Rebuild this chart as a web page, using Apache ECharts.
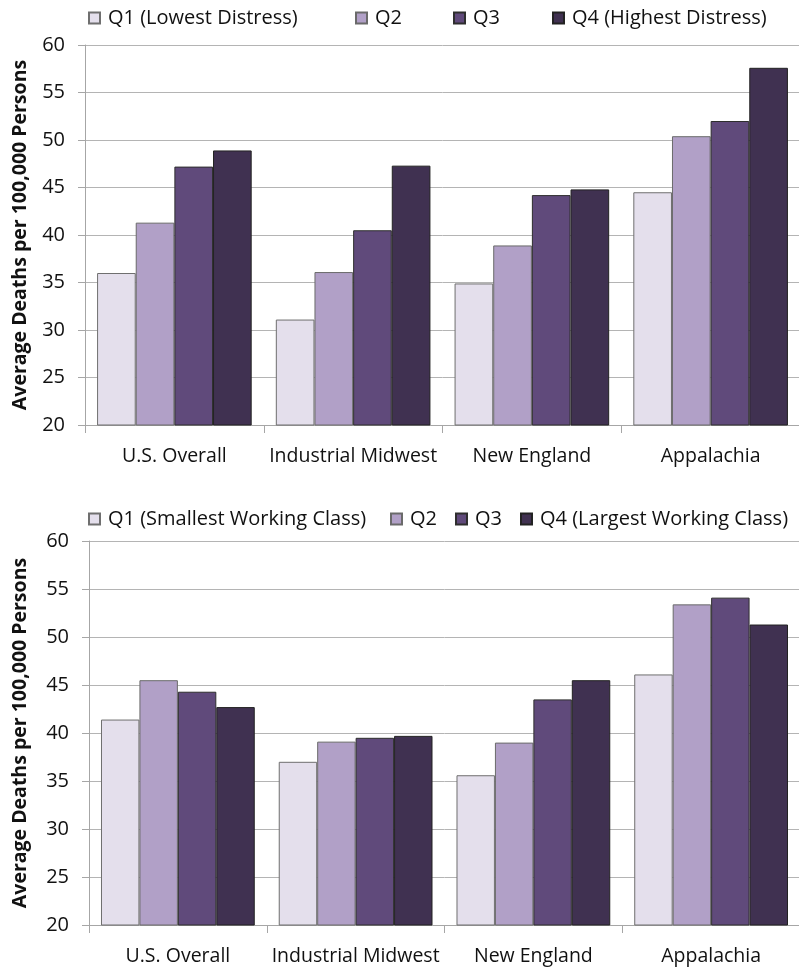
<!DOCTYPE html>
<html>
<head>
<meta charset="utf-8">
<script src="https://cdn.jsdelivr.net/npm/echarts@6/dist/echarts.min.js"></script>
<style>html,body{margin:0;padding:0;background:#fff;}#c{width:799px;height:968px;}</style>
</head>
<body>
<div id="c"></div>
<script>
const categories = ['U.S. Overall', 'Industrial Midwest', 'New England', 'Appalachia'];
const yTicks = [20, 25, 30, 35, 40, 45, 50, 55, 60];

const topNames = ['Q1 (Lowest Distress)', 'Q2', 'Q3', 'Q4 (Highest Distress)'];
const topQ1 = [36.0, 31.1, 34.9, 44.5];
const topQ2 = [41.3, 36.1, 38.9, 50.4];
const topQ3 = [47.2, 40.5, 44.2, 52.0];
const topQ4 = [48.9, 47.3, 44.8, 57.6];

const botNames = ['Q1 (Smallest Working Class)', 'Q2 ', 'Q3 ', 'Q4 (Largest Working Class)'];
const botQ1 = [41.4, 37.0, 35.6, 46.1];
const botQ2 = [45.5, 39.1, 39.0, 53.4];
const botQ3 = [44.3, 39.5, 43.5, 54.1];
const botQ4 = [42.7, 39.7, 45.5, 51.3];

const yTitle = 'Average Deaths per 100,000 Persons';

const colors = ['#e4dfec', '#b1a0c7', '#604a7b', '#403151'];
const borders = ['#6f6f6f', '#6a6a6a', '#2e2e2e', '#222222'];
const FONT = 'Open Sans';
const TXT = '#111';

const topData = [topQ1, topQ2, topQ3, topQ4];
const botData = [botQ1, botQ2, botQ3, botQ4];

function xAxis(gi) {
  return {
    type: 'category', gridIndex: gi, data: categories,
    axisLine: {show: true, lineStyle: {color: '#a6a6a6', width: 1}},
    axisTick: {show: true, length: 8, interval: 0, lineStyle: {color: '#a6a6a6'}},
    axisLabel: {fontFamily: FONT, fontSize: 19.5, color: TXT, margin: 21, interval: 0}
  };
}
function yAxis(gi, gap) {
  return {
    type: 'value', gridIndex: gi, min: yTicks[0], max: yTicks[yTicks.length - 1], interval: yTicks[1] - yTicks[0],
    name: yTitle, nameLocation: 'middle', nameGap: gap, nameRotate: 90,
    nameTextStyle: {fontFamily: FONT, fontSize: 19.5, fontWeight: 'bold', color: TXT},
    axisLine: {show: true, lineStyle: {color: '#a6a6a6', width: 1}},
    axisTick: {show: true, length: 7, lineStyle: {color: '#a6a6a6'}},
    axisLabel: {fontFamily: FONT, fontSize: 20, color: TXT, margin: 20},
    splitLine: {show: true, lineStyle: {color: '#b4b4b4', width: 1}}
  };
}
function seriesFor(names, data, gi) {
  return names.map((n, i) => ({
    type: 'bar', name: n, xAxisIndex: gi, yAxisIndex: gi, data: data[i],
    barGap: '0%', barCategoryGap: '13.5%',
    itemStyle: {color: colors[i], borderColor: borders[i], borderWidth: 1},
    emphasis: {disabled: true}
  }));
}
function legends(names, lefts, top) {
  return names.map((n, i) => ({
    data: [n], left: lefts[i], top: top, orient: 'horizontal',
    itemWidth: 11, itemHeight: 11, itemGap: 0, padding: 0,
    icon: 'rect',
    textStyle: {fontFamily: FONT, fontSize: 20, color: TXT, padding: [0, 0, 0, 3]},
    selectedMode: false
  }));
}

const chart = echarts.init(document.getElementById('c'), null, {renderer: 'canvas'});
chart.setOption({
  animation: false,
  backgroundColor: '#fff',
  grid: [
    {left: 85, top: 45, width: 715, height: 380, outerBoundsMode: 'none', containLabel: false},
    {left: 89, top: 541, width: 711, height: 384, outerBoundsMode: 'none', containLabel: false}
  ],
  legend: legends(topNames, [88, 355, 453, 552], 8).concat(legends(botNames, [88, 390, 455, 520], 509)),
  xAxis: [xAxis(0), xAxis(1)],
  yAxis: [yAxis(0, 55), yAxis(1, 59)],
  series: seriesFor(topNames, topData, 0).concat(seriesFor(botNames, botData, 1))
});
</script>
</body>
</html>
